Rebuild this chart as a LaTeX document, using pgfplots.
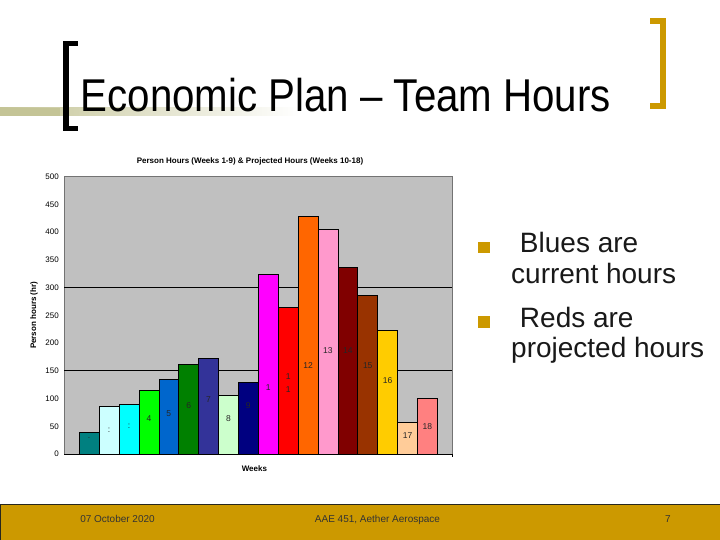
\documentclass[border=0pt]{standalone}
\usepackage{graphicx}
\usepackage{pgfplots}
\pgfplotsset{compat=1.18}
\usepackage{fontspec}
\setmainfont{Liberation Sans}

\definecolor{gold}{RGB}{204,153,0}
\definecolor{olive}{RGB}{196,196,150}
\definecolor{plotbg}{RGB}{192,192,192}

\definecolor{c1}{HTML}{008080}
\definecolor{c2}{HTML}{CCFFFF}
\definecolor{c3}{HTML}{00FFFF}
\definecolor{c4}{HTML}{00FF00}
\definecolor{c5}{HTML}{0066CC}
\definecolor{c6}{HTML}{008000}
\definecolor{c7}{HTML}{333399}
\definecolor{c8}{HTML}{CCFFCC}
\definecolor{c9}{HTML}{000080}
\definecolor{c10}{HTML}{FF00FF}
\definecolor{c11}{HTML}{FF0000}
\definecolor{c12}{HTML}{FF6600}
\definecolor{c13}{HTML}{FF99CC}
\definecolor{c14}{HTML}{800000}
\definecolor{c15}{HTML}{993300}
\definecolor{c16}{HTML}{FFCC00}
\definecolor{c17}{HTML}{FFCC99}
\definecolor{c18}{HTML}{FF8080}

% labels written inside the bars (position, text)
\pgfplotstableread{
x    y     lab
1    28    .
2    43    :
3    50    :
4    64    4
5    73    5
6    87    6
7    99    7
8    64    8
9    87    9
10   120   1
11   139   1
11   117   1
12   159   12
13   187   13
14   187   14
15   159   15
16   132   16
17   34    17
18   50    18
}\barlabels

\newcommand{\weekbar}[3]{\addplot[ybar, bar width=1, bar shift=0pt, fill=#1, draw=black, line width=0.6pt] coordinates {(#2,#3)};}

\begin{document}
\begin{tikzpicture}[x=1bp,y=1bp]
\path[use as bounding box] (0,0) rectangle (720,540);
\fill[white] (0,0) rectangle (720,540);

% header band and brackets
\shade[left color=olive, right color=white] (0,424) rectangle (300,432);
\fill[olive] (0,424) rectangle (60,432);
\fill[black] (63,408.5) rectangle (69.3,499);
\fill[black] (63,493.5) rectangle (78,499);
\fill[black] (63,408.5) rectangle (78,413.5);
\fill[gold] (660,431) rectangle (666,522);
\fill[gold] (650,516) rectangle (666,522);
\fill[gold] (650,431) rectangle (666,437);
\node[anchor=base west, inner sep=0pt, font=\fontsize{46bp}{50bp}\selectfont] at (80.5,428) {\scalebox{0.875}[1]{Economic Plan – Team Hours}};

% bullets
\fill[gold] (478.3,286.7) rectangle (490,298.3);
\fill[gold] (478.3,212.3) rectangle (490,224);
\begin{scope}[every node/.style={anchor=base west, inner sep=0pt, font=\fontsize{28bp}{32bp}\selectfont, text=black!90}]
\node at (512,287) {\ Blues are};
\node at (511,256) {current hours};
\node at (512,212) {\ Reds are};
\node at (511,182) {projected hours};
\end{scope}

% footer
\fill[gold] (0,0) rectangle (720,36);
\draw[black!80!olive, line width=0.8pt] (0.4,0) -- (0.4,36) -- (720,36);
\begin{scope}[every node/.style={anchor=base, inner sep=0pt, font=\fontsize{10bp}{12bp}\selectfont, text=black!80}]
\node at (117.5,17) {07 October 2020};
\node at (377.5,17) {AAE 451, Aether Aerospace};
\node at (668,17) {7};
\end{scope}

% chart
\node[font=\fontsize{8bp}{9bp}\selectfont\bfseries] at (250,379) {Person Hours (Weeks 1-9) \& Projected Hours (Weeks 10-18)};
\begin{axis}[
  at={(64.3bp,86bp)}, anchor=south west,
  width=388bp, height=277.3bp, scale only axis,
  xmin=-0.25, xmax=19.25, ymin=0, ymax=500,
  xtick=\empty,
  ytick={0,50,...,500},
  major tick length=0pt,
  extra y ticks={150,300},
  extra y tick labels={},
  extra y tick style={grid=major, major grid style={black, line width=0.7pt}},
  axis background/.style={fill=plotbg},
  axis line style={draw=black!55, line width=0.6pt},
  tick label style={font=\fontsize{8bp}{9bp}\selectfont},
  /pgf/number format/assume math mode=true,
  yticklabel style={xshift=-2bp},
  ylabel={Person hours (hr)},
  ylabel style={font=\fontsize{8bp}{9bp}\selectfont\bfseries, at={(rel axis cs:-0.078,0.5)}, anchor=center},
  xlabel={Weeks},
  xlabel style={font=\fontsize{8bp}{9bp}\selectfont\bfseries, at={(rel axis cs:0.49,0)}, yshift=-8bp, anchor=north},
  clip=false,
]
\weekbar{c1}{1}{39}
\weekbar{c2}{2}{86.5}
\weekbar{c3}{3}{89.5}
\weekbar{c4}{4}{114}
\weekbar{c5}{5}{135}
\weekbar{c6}{6}{162}
\weekbar{c7}{7}{172.5}
\weekbar{c8}{8}{106}
\weekbar{c9}{9}{130}
\weekbar{c10}{10}{324}
\weekbar{c11}{11}{264.5}
\weekbar{c12}{12}{428.5}
\weekbar{c13}{13}{405}
\weekbar{c14}{14}{336.5}
\weekbar{c15}{15}{286}
\weekbar{c16}{16}{223.5}
\weekbar{c17}{17}{57}
\weekbar{c18}{18}{100}
\addplot[draw=none, nodes near coords, point meta=explicit symbolic,
  nodes near coords align={center},
  every node near coord/.append style={font=\fontsize{8.5bp}{9bp}\selectfont, text=black!85}]
  table[x=x, y=y, meta=lab] {\barlabels};
\draw[black, line width=0.9pt] (rel axis cs:0,0) -- (rel axis cs:1,0) -- ([yshift=-3bp]rel axis cs:1,0);
\end{axis}
\end{tikzpicture}
\end{document}
